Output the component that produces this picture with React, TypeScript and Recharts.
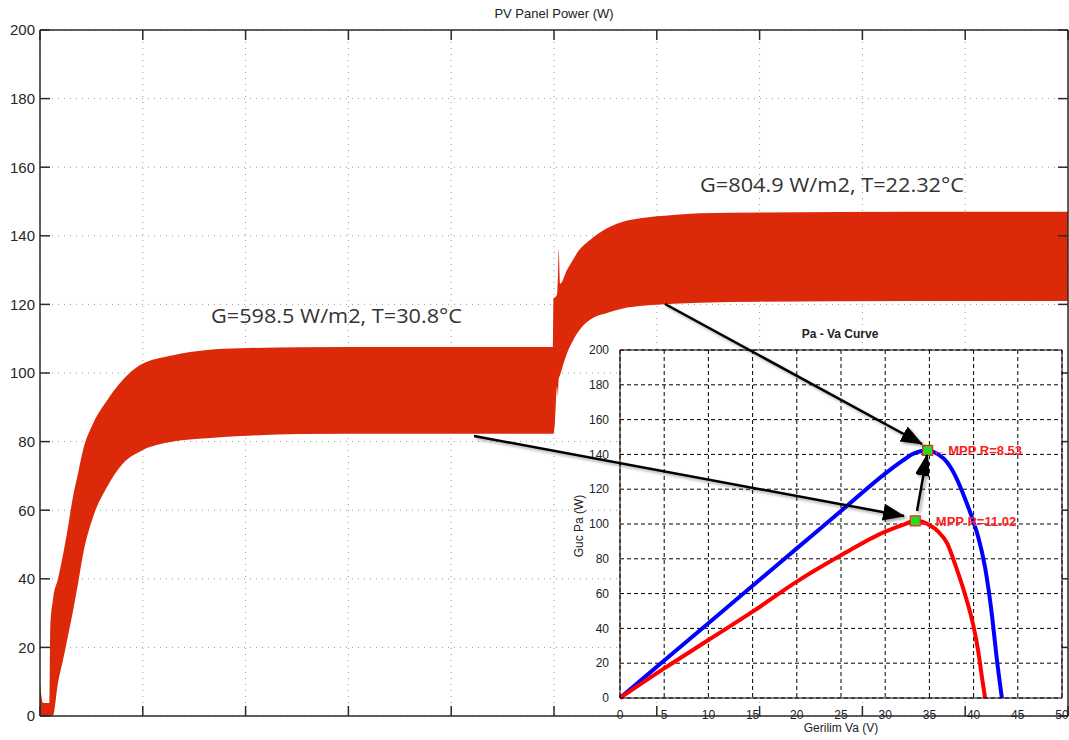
import React from 'react'
import { Area, CartesianGrid, ComposedChart, Line, Scatter, XAxis, YAxis } from 'recharts'

// --- main trace: PV panel power vs time (one grid division = 1 unit) ---
const timeTicks = [0, 1, 2, 3, 4, 5, 6, 7, 8, 9, 10]
const powerTicks = [0, 20, 40, 60, 80, 100, 120, 140, 160, 180, 200]

// lower / upper envelope of the ripple band
const time = [
  0, 0.03, 0.095, 0.1, 0.126, 0.175, 0.224, 0.272, 0.321, 0.37, 0.418, 0.516, 0.652, 0.807, 0.973,
  1.294, 1.625, 1.946, 2.529, 3.5, 4.99, 4.995, 5.01, 5.03, 5.04, 5.045, 5.06, 5.126, 5.185, 5.224,
  5.35, 5.516, 5.671, 5.837, 6.158, 6.42, 7.0, 8.5, 10,
]
const powerLow = [
  0, 0, 0, 0, 0, 9.6, 16.3, 23.3, 30.6, 38.6, 47, 58, 66.8, 73.6, 77.1,
  80, 81, 81.6, 82.2, 82.3, 82.3, 82.3, 86, 96, 93, 98, 99.5, 105.7, 109.5, 111.5,
  115.5, 117.5, 118.8, 119.5, 120.2, 120.5, 120.8, 121, 121,
]
const powerHigh = [
  9.6, 3.8, 3.8, 26, 34, 40, 47, 55, 64, 70.8, 77.5, 85.3, 92, 98, 102.3,
  105.2, 106.7, 107.2, 107.5, 107.6, 107.6, 121.8, 122, 123, 130, 136, 126, 130, 133, 135,
  138.8, 142.2, 144.1, 145.1, 146.1, 146.6, 146.8, 147, 147,
]

// --- inset: Pa - Va curves ---
const voltTicks = [0, 5, 10, 15, 20, 25, 30, 35, 40, 45, 50]
const pvPowerTicks = [0, 20, 40, 60, 80, 100, 120, 140, 160, 180, 200]

const highIrrV = [0, 5, 10, 15, 20, 25, 30, 32, 33, 34, 34.8, 36, 37, 38, 39, 40, 40.5, 41.3, 42.1, 42.6, 43.2]
const highIrrP = [0, 21.5, 43, 64.5, 86, 107.5, 129, 136.5, 140, 141.8, 142.3, 140, 135.5, 127, 115, 101, 93, 75, 46.6, 23.6, 0]

const lowIrrV = [0, 5, 10, 15, 20, 25, 30, 32, 33.4, 35, 36, 37, 38, 39, 40, 40.5, 41, 41.3]
const lowIrrP = [0, 17, 33.3, 49.6, 66.9, 82, 95.6, 99.5, 101.8, 99.4, 95.6, 89, 75.5, 60, 41, 27.6, 10, 0]

const mppV = [34.8, 33.4]
const mppP = [142.3, 101.8]
const mppLabels = ['MPP R=8.53', 'MPP R=11.02']

const bandData = time.map((t, i) => ({ t, band: [powerLow[i], powerHigh[i]] }))
const highCurve = highIrrV.map((v, i) => ({ v, p: highIrrP[i] }))
const lowCurve = lowIrrV.map((v, i) => ({ v, p: lowIrrP[i] }))
const mppData = mppV.map((v, i) => ({ v, p: mppP[i], label: mppLabels[i] }))

const AXIS = '#2a2a2a'
const BAND = '#dc290a'
const SANS = '"Liberation Sans", Arial, sans-serif'

// keeps tick lines + grid, draws no label
const NoLabel = () => <g />

function MppMarker(props: any) {
  const { cx, cy, payload } = props
  return (
    <g>
      <rect x={cx - 5} y={cy - 5} width={10} height={10} fill="#22dd22" stroke="#ff2020" strokeWidth={1.2} />
      <text
        x={cx + 4}
        y={cy + 5}
        fill="#ff2020"
        fontSize={13}
        fontWeight="bold"
        fontFamily={'"Liberation Sans", "DejaVu Sans", sans-serif'}
      >
        {'\u2190 ' + payload.label}
      </text>
    </g>
  )
}

function Arrow({ from, to }: { from: [number, number]; to: [number, number] }) {
  return (
    <line
      x1={from[0]}
      y1={from[1]}
      x2={to[0]}
      y2={to[1]}
      stroke="#000"
      strokeWidth={2.5}
      markerEnd="url(#head)"
      filter="url(#shade)"
    />
  )
}

export default function App() {
  return (
    <div style={{ position: 'fixed', left: 0, top: 0, width: 1069, height: 740, background: '#fff' }}>
      <div style={{ position: 'absolute', left: 0, top: 0 }}>
        <ComposedChart width={1069} height={740} data={bandData} margin={{ top: 29, right: 0, bottom: 23, left: 0 }}>
          <CartesianGrid stroke="#9a9a9a" strokeDasharray="1 5" />
          <XAxis
            dataKey="t"
            type="number"
            domain={[0, 10]}
            ticks={timeTicks}
            tick={NoLabel}
            height={1}
            tickSize={-10}
            stroke={AXIS}
            strokeWidth={1.5}
          />
          <XAxis
            xAxisId="top"
            dataKey="t"
            orientation="top"
            type="number"
            domain={[0, 10]}
            allowDataOverflow
            ticks={timeTicks}
            tick={NoLabel}
            height={1}
            tickSize={-10}
            stroke={AXIS}
            strokeWidth={1.5}
          />
          <YAxis
            type="number"
            domain={[0, 200]}
            ticks={powerTicks}
            width={40}
            tickSize={-10}
            tickMargin={15}
            stroke={AXIS}
            strokeWidth={1.5}
            tick={{ fontSize: 15, fill: '#262626', fontFamily: SANS }}
          />
          <YAxis
            yAxisId="right"
            orientation="right"
            type="number"
            domain={[0, 200]}
            allowDataOverflow
            ticks={powerTicks}
            tick={NoLabel}
            width={1}
            tickSize={-10}
            stroke={AXIS}
            strokeWidth={1.5}
          />
          <Area
            dataKey="band"
            type="monotone"
            stroke="none"
            fill={BAND}
            fillOpacity={1}
            isAnimationActive={false}
            dot={false}
            activeDot={false}
          />
          {/* same band bound to the mirror axes so the top/right box edges get drawn */}
          <Area
            xAxisId="top"
            yAxisId="right"
            dataKey="band"
            type="monotone"
            stroke="none"
            fill="none"
            isAnimationActive={false}
            dot={false}
            activeDot={false}
          />
        </ComposedChart>
      </div>

      <div style={{ position: 'absolute', left: 560, top: 320 }}>
        <ComposedChart width={509} height={420} margin={{ top: 29, right: 6, bottom: 22, left: 20 }}>
          <CartesianGrid stroke="#000" strokeDasharray="4 3" fill="#fff" />
          <XAxis
            dataKey="v"
            type="number"
            domain={[0, 50]}
            ticks={voltTicks}
            height={20}
            tickLine={false}
            tickMargin={6}
            stroke="#000"
            tick={{ fontSize: 12, fill: '#1c1c2c', fontFamily: SANS }}
          />
          <XAxis
            xAxisId="top"
            dataKey="v"
            orientation="top"
            type="number"
            domain={[0, 50]}
            allowDataOverflow
            ticks={voltTicks}
            tick={NoLabel}
            tickLine={false}
            height={1}
            stroke="#000"
          />
          <YAxis
            type="number"
            domain={[0, 200]}
            ticks={pvPowerTicks}
            width={40}
            tickLine={false}
            tickMargin={5}
            stroke="#000"
            tick={{ fontSize: 12, fill: '#1c1c2c', fontFamily: SANS }}
          />
          <YAxis
            yAxisId="right"
            orientation="right"
            type="number"
            domain={[0, 200]}
            allowDataOverflow
            ticks={pvPowerTicks}
            tick={NoLabel}
            tickLine={false}
            width={1}
            stroke="#000"
          />
          <Line data={highCurve} dataKey="p" type="monotone" stroke="#0000ff" strokeWidth={4} dot={false} isAnimationActive={false} />
          <Line data={lowCurve} dataKey="p" type="monotone" stroke="#ff0000" strokeWidth={4} dot={false} isAnimationActive={false} />
          <Line
            data={lowCurve}
            xAxisId="top"
            yAxisId="right"
            dataKey="p"
            stroke="none"
            dot={false}
            activeDot={false}
            isAnimationActive={false}
          />
          <Scatter data={mppData} dataKey="p" shape={<MppMarker />} isAnimationActive={false} />
        </ComposedChart>
      </div>

      <svg width={1069} height={740} style={{ position: 'absolute', left: 0, top: 0, pointerEvents: 'none' }}>
        <defs>
          <marker id="head" viewBox="0 0 22 17" refX={21} refY={8.5} markerWidth={22} markerHeight={17} markerUnits="userSpaceOnUse" orient="auto">
            <path d="M0,0 L22,8.5 L0,17 z" fill="#000" />
          </marker>
          <filter id="shade" x="-10%" y="-10%" width="130%" height="130%">
            <feDropShadow dx={2} dy={2} stdDeviation={1.5} floodColor="#000" floodOpacity={0.35} />
          </filter>
        </defs>
        <text x={554} y={18} textAnchor="middle" fontSize={13} fill="#222" fontFamily={SANS}>
          PV Panel Power (W)
        </text>
        <text x={211} y={323} fontSize={20} fill="#333" fontFamily='"Open Sans", sans-serif' textLength={251} lengthAdjust="spacingAndGlyphs">
          G=598.5 W/m2, T=30.8°C
        </text>
        <text x={700} y={192} fontSize={20} fill="#333" fontFamily='"Open Sans", sans-serif' textLength={264} lengthAdjust="spacingAndGlyphs">
          G=804.9 W/m2, T=22.32°C
        </text>
        <text x={840} y={338} textAnchor="middle" fontSize={12} fontWeight="bold" fill="#222" fontFamily={SANS}>
          Pa - Va Curve
        </text>
        <text x={583} y={526} textAnchor="middle" fontSize={12} fill="#222" fontFamily={SANS} transform="rotate(-90 583 526)">
          Guc Pa (W)
        </text>
        <text x={841} y={732} textAnchor="middle" fontSize={12} fill="#222" fontFamily={SANS}>
          Gerilim Va (V)
        </text>
        <Arrow from={[665, 304]} to={[922, 444]} />
        <Arrow from={[474, 436]} to={[904, 516]} />
        <Arrow from={[917, 511]} to={[927, 455]} />
      </svg>
    </div>
  )
}
